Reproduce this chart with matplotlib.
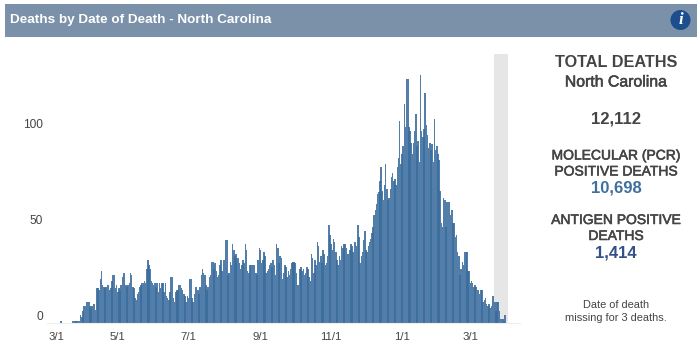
"""Deaths by date of death, North Carolina: daily bars plus a totals panel."""

import matplotlib

matplotlib.use("Agg")
import matplotlib.dates as mdates
import matplotlib.patheffects as pe
import matplotlib.pyplot as plt
import pandas as pd
from matplotlib.patches import Circle, Rectangle
from matplotlib.transforms import ScaledTranslation

plt.rcParams["font.family"] = ["Liberation Sans", "DejaVu Sans"]

# Daily deaths
MAR_20 = [0, 0, 0, 0, 0, 0, 0, 0, 0, 0, 0, 0, 1, 0, 0, 0, 0, 0, 0, 0, 0, 0, 1, 1, 1, 1, 1, 1, 1, 4, 3]
APR_20 = [6, 9, 9, 11, 11, 11, 9, 8, 9, 10, 10, 7, 18, 18, 17, 23, 27, 20, 19, 18, 19, 20, 20, 17, 18, 22, 25, 25, 18, 20]
MAY_20 = [16, 18, 17, 20, 24, 26, 26, 20, 19, 20, 21, 26, 25, 19, 18, 13, 12, 15, 16, 19, 20, 21, 21, 22, 21, 28, 33, 30, 28, 22, 21]
JUN_20 = [20, 21, 19, 21, 16, 21, 18, 21, 21, 16, 21, 14, 13, 12, 16, 24, 24, 13, 11, 16, 17, 17, 20, 20, 18, 17, 15, 14, 11, 14]
JUL_20 = [13, 23, 23, 13, 11, 15, 19, 19, 17, 15, 19, 25, 28, 26, 25, 20, 17, 19, 24, 25, 32, 32, 28, 31, 27, 24, 25, 30, 33, 27, 33]
AUG_20 = [33, 43, 43, 25, 26, 32, 30, 41, 38, 35, 36, 34, 34, 31, 28, 30, 33, 31, 41, 38, 27, 26, 30, 30, 30, 30, 30, 26, 25, 33, 39]
SEP_20 = [38, 31, 33, 37, 35, 26, 27, 28, 30, 31, 29, 33, 30, 25, 41, 39, 31, 35, 34, 23, 26, 30, 29, 24, 27, 25, 28, 31, 32, 32]
OCT_20 = [31, 26, 20, 20, 28, 29, 27, 28, 25, 26, 29, 28, 24, 22, 36, 34, 26, 33, 30, 42, 40, 32, 35, 31, 38, 36, 30, 31, 35, 51, 46]
NOV_20 = [41, 38, 44, 42, 37, 33, 30, 35, 33, 40, 39, 41, 41, 39, 36, 36, 38, 41, 40, 37, 42, 42, 40, 51, 45, 31, 35, 37, 43, 48]
DEC_20 = [38, 37, 40, 42, 44, 47, 50, 56, 59, 62, 67, 68, 74, 81, 69, 64, 72, 83, 70, 64, 65, 70, 76, 78, 74, 75, 72, 81, 86, 105, 83]
JAN_21 = [88, 92, 114, 102, 127, 127, 102, 100, 94, 88, 94, 100, 109, 92, 95, 84, 129, 100, 97, 101, 120, 103, 98, 91, 94, 90, 93, 84, 106, 90, 92]
FEB_21 = [88, 85, 69, 52, 50, 65, 64, 50, 63, 63, 63, 56, 59, 52, 52, 45, 46, 37, 35, 25, 28, 32, 30, 37, 37, 37, 27, 27]
MAR_21 = [21, 22, 21, 19, 20, 19, 17, 17, 15, 17, 17, 11, 12, 13, 10, 9, 10, 8, 9, 14, 14, 11, 6, 11, 11, 6, 2, 2, 2, 1, 4]

DEATHS = MAR_20 + APR_20 + MAY_20 + JUN_20 + JUL_20 + AUG_20 + SEP_20 + OCT_20 + NOV_20 + DEC_20 + JAN_21 + FEB_21 + MAR_21
DATES = pd.date_range("2020-03-01", periods=len(DEATHS))

X_TICKS = ["2020-03-01", "2020-05-01", "2020-07-01", "2020-09-01", "2020-11-01", "2021-01-01", "2021-03-01"]
X_LABELS = ["3/1", "5/1", "7/1", "9/1", "11/1", "1/1", "3/1"]
Y_TICKS = [0, 50, 100]

BAR_BLUE = "#3a6c9d"
HEADER = "#7a91a9"
GREY_TEXT = "#444444"

W, H = 700, 359


def main() -> None:
    fig = plt.figure(figsize=(W / 100, H / 100), dpi=100)

    # Full-figure layer in pixel coordinates for the header and the totals panel
    bg = fig.add_axes([0, 0, 1, 1])
    bg.set_xlim(0, W)
    bg.set_ylim(H, 0)
    bg.axis("off")
    bg.add_patch(Rectangle((5, 3.5), 691.5, 33.5, color=HEADER, lw=0))
    bg.text(10.5, 19.5, "Deaths by Date of Death - North Carolina", color="white",
            fontsize=9.7, fontweight="bold", va="center")
    bg.add_patch(Circle((680.5, 20), 10, color="#1c4d8c", lw=0))
    bg.text(680.5, 20, "i", color="white", fontsize=12, fontweight="bold", style="italic",
            family="Liberation Serif", ha="center", va="center")

    panel = [
        ("TOTAL DEATHS", 62.5, 11.7, "bold", GREY_TEXT),
        ("North Carolina", 82, 11.4, "normal", GREY_TEXT),
        ("12,112", 119, 12, "bold", GREY_TEXT),
        ("MOLECULAR (PCR)", 155.5, 10, "normal", GREY_TEXT),
        ("POSITIVE DEATHS", 171.5, 10, "normal", GREY_TEXT),
        ("10,698", 188, 12, "bold", "#3f6f9f"),
        ("ANTIGEN POSITIVE", 220, 10, "normal", GREY_TEXT),
        ("DEATHS", 236, 10, "normal", GREY_TEXT),
        ("1,414", 253, 12, "bold", "#34508a"),
        ("Date of death", 305.5, 7.9, "normal", GREY_TEXT),
        ("missing for 3 deaths.", 318, 7.9, "normal", GREY_TEXT),
    ]
    for text, y, size, weight, color in panel:
        t = bg.text(616, y, text, fontsize=size, fontweight=weight, color=color, ha="center", va="center")
        # the caps lines read a little heavier than regular weight
        if weight == "normal" and size >= 10:
            t.set_path_effects([pe.withStroke(linewidth=0.4, foreground=color)])

    # Bar chart: 1.16 px per day, 1.92 px per death, baseline at y=323
    left, right, top, bottom = 47, 520, 54, 323
    ax = fig.add_axes([left / W, 1 - bottom / H, (right - left) / W, (bottom - top) / H])
    ax.patch.set_alpha(0)
    ax.axvspan(pd.Timestamp("2021-03-21"), pd.Timestamp("2021-04-02"), color="#e6e6e6", lw=0, zorder=1)
    ax.bar(DATES, DEATHS, width=1.3, color=BAR_BLUE, alpha=0.88, lw=0, zorder=2)

    ax.set_xlim(pd.Timestamp("2020-03-01"), pd.Timestamp("2020-03-01") + pd.Timedelta(days=(right - left) / 1.16))
    ax.set_ylim(0, (bottom - top) / 1.92)
    ax.set_xticks([mdates.date2num(pd.Timestamp(d)) for d in X_TICKS])
    ax.set_xticklabels(X_LABELS, fontsize=8.2, color=GREY_TEXT)
    ax.set_yticks(Y_TICKS)
    ax.set_yticklabels([str(v) for v in Y_TICKS], fontsize=8.6, color=GREY_TEXT)
    ax.tick_params(axis="x", length=0, pad=6.5)
    ax.tick_params(axis="y", length=0, pad=3)
    first = ax.get_xticklabels()[0]
    first.set_ha("left")
    first.set_transform(first.get_transform() + ScaledTranslation(2 / 100, 0, fig.dpi_scale_trans))
    for label in ax.get_yticklabels():
        label.set_transform(label.get_transform() + ScaledTranslation(0, 8 / 100, fig.dpi_scale_trans))
    for side in ["top", "left", "right"]:
        ax.spines[side].set_visible(False)
    ax.spines["bottom"].set_color("#eeeeee")

    fig.savefig("out.png", dpi=100)
    plt.close(fig)


if __name__ == "__main__":
    main()
